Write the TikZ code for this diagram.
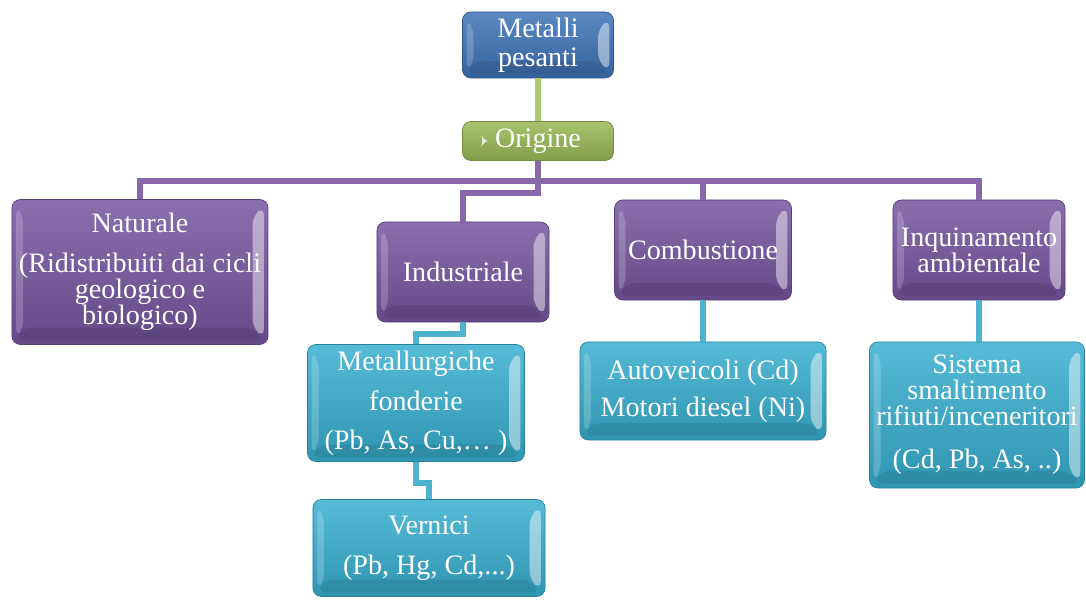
\documentclass[tikz,border=0pt]{standalone}
\usepackage{fontspec}
\setmainfont{Liberation Serif}
\usetikzlibrary{calc}

\definecolor{metblue}{HTML}{3E74B8}
\definecolor{origreen}{HTML}{97B955}
\definecolor{srcpurple}{HTML}{7655A0}
\definecolor{subaqua}{HTML}{37AFD0}
\definecolor{purpline}{HTML}{8868AA}
\definecolor{aqualine}{HTML}{4DB3CF}
\definecolor{greenline}{HTML}{A9CB6B}

\tikzset{
  bevel/.style={path picture={
    \fill[white,opacity=0.45] ($(path picture bounding box.north east)+(-3pt,-5pt)$)
      -- ($(path picture bounding box.south east)+(-3pt,5pt)$)
      -- ($(path picture bounding box.south east)+(-11pt,12pt)$)
      -- ($(path picture bounding box.north east)+(-11pt,-12pt)$) -- cycle;
    \fill[white,opacity=0.2] ($(path picture bounding box.north west)+(3pt,-5pt)$)
      -- ($(path picture bounding box.south west)+(3pt,5pt)$)
      -- ($(path picture bounding box.south west)+(8pt,12pt)$)
      -- ($(path picture bounding box.north west)+(8pt,-12pt)$) -- cycle;
    \fill[black,opacity=0.08] ($(path picture bounding box.south west)+(8pt,12pt)$)
      -- ($(path picture bounding box.south east)+(-11pt,12pt)$)
      -- ($(path picture bounding box.south east)+(-3pt,3pt)$)
      -- ($(path picture bounding box.south west)+(3pt,3pt)$) -- cycle;
  }},
  box/.style={rounded corners=6pt, draw=#1!75!black, line width=0.5pt,
    top color=#1!85!white, bottom color=#1!85!black, text=white,
    align=center, inner sep=1pt,
    font=\fontsize{20}{18.5}\selectfont, bevel},
  link/.style={line width=3.6pt, draw=#1},
}

\begin{document}
\begin{tikzpicture}[x=0.025cm,y=-0.025cm]
\useasboundingbox (0,0) rectangle (1086,599);

\node[box=metblue, minimum width=3.775cm, minimum height=1.65cm] (metalli) at (538,45) {Metalli\\[2pt]pesanti};
\node[box=origreen, minimum width=3.775cm, minimum height=0.975cm,
  path picture={\fill[white,opacity=0.8] ($(path picture bounding box.west)+(14pt,3pt)$)
    -- ($(path picture bounding box.west)+(17pt,0pt)$)
    -- ($(path picture bounding box.west)+(14pt,-3pt)$) -- cycle;}] (origine) at (538,141) {Origine};

\node[box=srcpurple, minimum width=6.4cm, minimum height=3.625cm] (naturale) at (140,272)
  {Naturale\\[10pt](Ridistribuiti dai cicli\\geologico e\\biologico)};
\node[box=srcpurple, minimum width=4.3cm, minimum height=2.5cm] (industriale) at (463,272) {Industriale};
\node[box=srcpurple, minimum width=4.425cm, minimum height=2.5cm] (combustione) at (703,250) {Combustione};
\node[box=srcpurple, minimum width=4.3cm, minimum height=2.5cm] (inquinamento) at (979,250) {Inquinamento\\ambientale};

\node[box=subaqua, minimum width=5.425cm, minimum height=2.925cm] (metallurgiche) at (416,403)
  {Metallurgiche\\[10pt]fonderie\\[9pt](Pb, As, Cu,\dots\ )};
\node[box=subaqua, minimum width=5.8cm, minimum height=2.425cm] (vernici) at (429,548)
  {Vernici\\[10pt](Pb, Hg, Cd,...)};
\node[box=subaqua, minimum width=6.15cm, minimum height=2.45cm] (autoveicoli) at (703,391)
  {Autoveicoli (Cd)\\[8pt]Motori diesel (Ni)};
\node[box=subaqua, minimum width=5.375cm, minimum height=3.65cm] (sistema) at (977,415)
  {Sistema\\smaltimento\\rifiuti/inceneritori\\[12pt](Cd, Pb, As, ..)};

% connectors
\coordinate (bus) at (538,181);
\coordinate (indjog) at (538,193);
\coordinate (metjog) at (463,334);
\coordinate (verjog) at (416,483);

\draw[link=greenline] (metalli)--(origine);
\draw[link=purpline] (origine.south)--(bus);
\draw[link=purpline] (naturale.north) |- (bus) -| (inquinamento.north);
\draw[link=purpline] (combustione.north)--(combustione.north |- bus);
\draw[link=purpline] (bus)--(indjog) -| (industriale.north);
\draw[link=aqualine] (industriale.south)--(metjog) -| (metallurgiche.north);
\draw[link=aqualine] (metallurgiche.south)--(verjog) -| (vernici.north);
\draw[link=aqualine] (combustione)--(autoveicoli);
\draw[link=aqualine] (inquinamento.south)--(inquinamento.south |- sistema.north);

\end{tikzpicture}
\end{document}
